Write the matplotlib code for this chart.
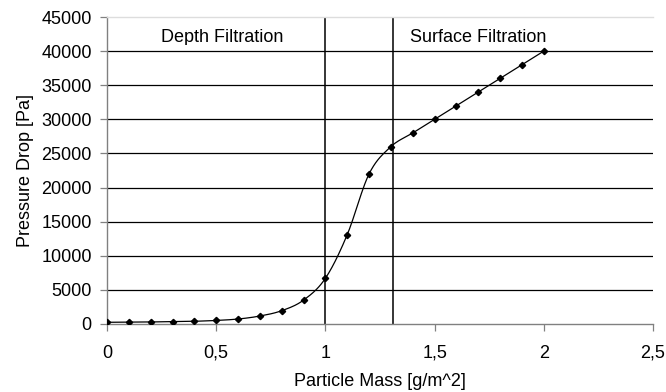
import numpy as np
import matplotlib
matplotlib.use("Agg")
import matplotlib.pyplot as plt
from matplotlib.transforms import Bbox, TransformedBbox

plt.rcParams['font.family'] = ['Liberation Sans', 'DejaVu Sans']

mass = [0.0, 0.1, 0.2, 0.3, 0.4, 0.5, 0.6, 0.7, 0.8, 0.9, 1.0,
        1.1, 1.2, 1.3, 1.4, 1.5, 1.6, 1.7, 1.8, 1.9, 2.0]
pressure = [250, 270, 300, 350, 400, 520, 730, 1170, 1950, 3500, 6700,
            13100, 22000, 26000, 28000, 30000, 32000, 34000, 36000, 38000, 40000]
region_bounds = [1.0, 1.31]
region_labels = ["Depth Filtration", "Surface Filtration"]
label_x = [0.529, 1.70]
xticks = [0, 0.5, 1, 1.5, 2, 2.5]
xtick_labels = ["0", "0,5", "1", "1,5", "2", "2,5"]
yticks = list(range(0, 45001, 5000))


def smooth(x, y, n=20):
    # Catmull-Rom spline through the data points (rendering of a smoothed line)
    x = np.asarray(x, float); y = np.asarray(y, float)
    px = np.concatenate([[2 * x[0] - x[1]], x, [2 * x[-1] - x[-2]]])
    py = np.concatenate([[2 * y[0] - y[1]], y, [2 * y[-1] - y[-2]]])
    xs, ys = [], []
    t = np.linspace(0, 1, n, endpoint=False)
    for i in range(1, len(px) - 2):
        p0, p1, p2, p3 = (np.array([px[j], py[j]]) for j in range(i - 1, i + 3))
        for tt in t:
            pt = 0.5 * ((2 * p1) + (-p0 + p2) * tt + (2 * p0 - 5 * p1 + 4 * p2 - p3) * tt ** 2
                        + (-p0 + 3 * p1 - 3 * p2 + p3) * tt ** 3)
            xs.append(pt[0]); ys.append(pt[1])
    xs.append(x[-1]); ys.append(y[-1])
    return np.array(xs), np.array(ys)


FS = 13
fig = plt.figure(figsize=(6.66, 3.92), dpi=100)
ax = fig.add_axes([107 / 666, 1 - 324 / 392, 546 / 666, 307 / 392])

ax.set_xlim(0, 2.5)
ax.set_ylim(0, 45000)

for yv in yticks[1:-1]:
    ax.axhline(yv, color='black', lw=0.9, zorder=1)

for xb in region_bounds:
    ax.axvline(xb, color='black', lw=1.1, zorder=2)

sx, sy = smooth(mass, pressure)
ax.plot(sx, sy, color='black', lw=0.9, zorder=3)
ax.plot(mass, pressure, linestyle='none', marker='D', markersize=3.2,
        color='black', zorder=4)

clip = TransformedBbox(Bbox([[0, 40950], [2.5, 45000]]), ax.transData)
for lx, lab in zip(label_x, region_labels):
    t = ax.text(lx, 41350, lab, ha='center', va='baseline', fontsize=FS, zorder=5)
    t.set_clip_box(clip)
    t.set_clip_on(True)

ax.set_xticks(xticks)
ax.set_xticklabels(xtick_labels)
ax.set_yticks(yticks)
ax.set_yticklabels([str(v) for v in yticks])
ax.tick_params(axis='both', labelsize=FS, length=5, width=0.9, color='#808080', direction='out')
ax.tick_params(axis='x', pad=10)
ax.tick_params(axis='y', pad=6)

ax.spines['right'].set_visible(False)
ax.spines['top'].set_color('#dddddd')
ax.spines['left'].set_color('#808080')
ax.spines['bottom'].set_color('#808080')
for s in ax.spines.values():
    s.set_linewidth(1.0)

ax.set_xlabel("Particle Mass [g/m^2]", fontsize=FS, labelpad=8)
ax.set_ylabel("Pressure Drop [Pa]", fontsize=FS, labelpad=5)

fig.savefig("out.png", dpi=100)
